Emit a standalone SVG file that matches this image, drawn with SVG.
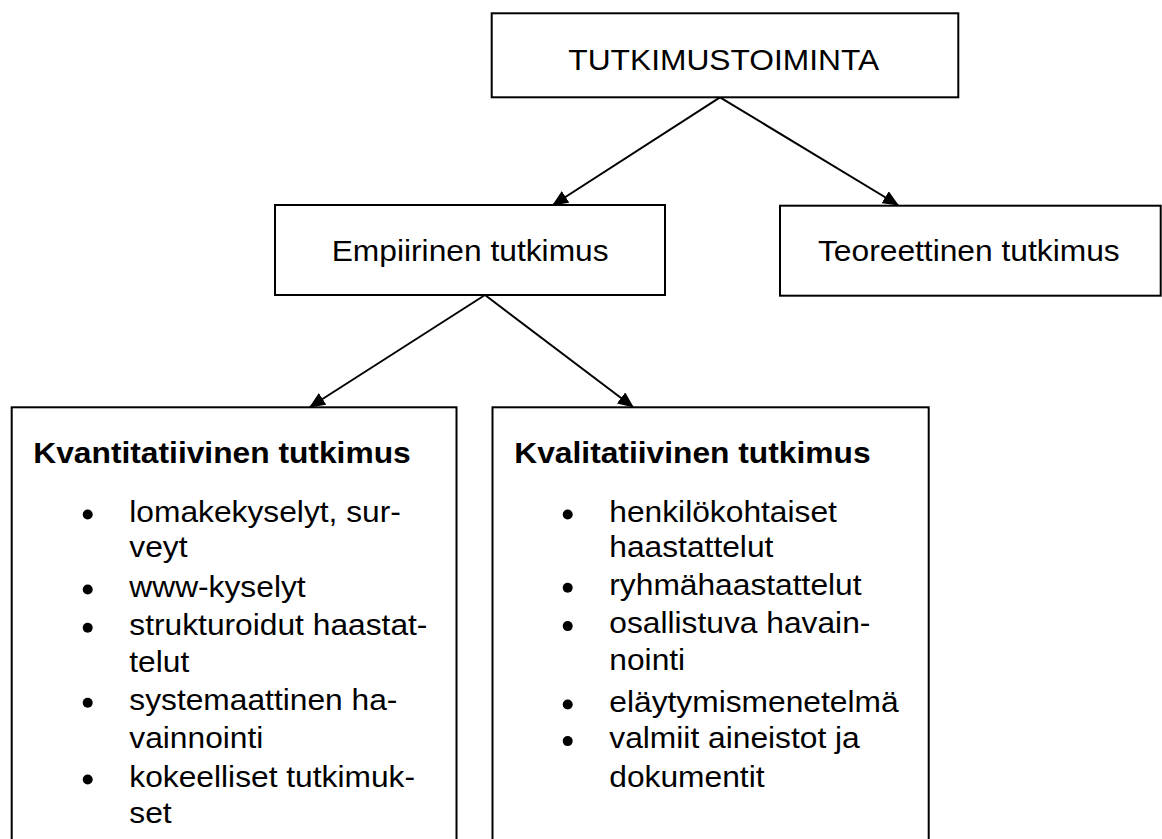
<svg xmlns="http://www.w3.org/2000/svg" width="1162" height="839" viewBox="0 0 1162 839">
<style>
.box{fill:#fff;stroke:#000;stroke-width:2}
.t{font-family:"Liberation Sans",Arial,sans-serif;font-size:29px;fill:#000}
.b{font-weight:bold}
.edge{stroke:#000;stroke-width:2;fill:none}
.dot{fill:#000}
</style>
<defs>
<marker id="ah" markerUnits="userSpaceOnUse" markerWidth="16" markerHeight="14" viewBox="0 0 16 14" refX="15" refY="7" orient="auto">
<path d="M0,0 L16,7 L0,14 Z" fill="#000"/>
</marker>
</defs>
<rect width="1162" height="839" fill="#fff"/>
<g id="connectors">
<line class="edge" x1="720" y1="97.3" x2="553" y2="205" marker-end="url(#ah)"/>
<line class="edge" x1="720" y1="97.3" x2="898" y2="205" marker-end="url(#ah)"/>
<line class="edge" x1="485" y1="295" x2="310" y2="407" marker-end="url(#ah)"/>
<line class="edge" x1="485" y1="295" x2="633" y2="407" marker-end="url(#ah)"/>
</g>
<g id="n-tutkimustoiminta">
<rect class="box" x="491.7" y="13.3" width="466.6" height="84"/>
<text class="t" transform="translate(568.3 70) scale(1.095 1)">TUTKIMUSTOIMINTA</text>
</g>
<g id="n-empiirinen">
<rect class="box" x="275" y="205" width="390" height="90"/>
<text class="t" transform="translate(331.7 261) scale(1.095 1)">Empiirinen tutkimus</text>
</g>
<g id="n-teoreettinen">
<rect class="box" x="780" y="205.7" width="380.7" height="90"/>
<text class="t" transform="translate(818 261) scale(1.095 1)">Teoreettinen tutkimus</text>
</g>
<g id="n-kvantitatiivinen">
<rect class="box" x="11.7" y="407.3" width="444.8" height="445"/>
<text class="t b" transform="translate(33.3 463.3) scale(1.095 1)">Kvantitatiivinen tutkimus</text>
<circle class="dot" cx="87.7" cy="514.5" r="5"/>
<text class="t" transform="translate(129.3 521.7) scale(1.095 1)">lomakekyselyt, sur-</text>
<text class="t" transform="translate(129.3 556.7) scale(1.095 1)">veyt</text>
<circle class="dot" cx="87.7" cy="589.5" r="5"/>
<text class="t" transform="translate(129.3 596.7) scale(1.095 1)">www-kyselyt</text>
<circle class="dot" cx="87.7" cy="627.8" r="5"/>
<text class="t" transform="translate(129.3 635) scale(1.095 1)">strukturoidut haastat-</text>
<text class="t" transform="translate(129.3 671.7) scale(1.095 1)">telut</text>
<circle class="dot" cx="87.7" cy="702.8" r="5"/>
<text class="t" transform="translate(129.3 710) scale(1.095 1)">systemaattinen ha-</text>
<text class="t" transform="translate(129.3 748.3) scale(1.095 1)">vainnointi</text>
<circle class="dot" cx="87.7" cy="779.5" r="5"/>
<text class="t" transform="translate(129.3 786.7) scale(1.095 1)">kokeelliset tutkimuk-</text>
<text class="t" transform="translate(129.3 823.3) scale(1.095 1)">set</text>
</g>
<g id="n-kvalitatiivinen">
<rect class="box" x="492.5" y="407.3" width="436.2" height="445"/>
<text class="t b" transform="translate(514.3 463.3) scale(1.095 1)">Kvalitatiivinen tutkimus</text>
<circle class="dot" cx="567.7" cy="514.5" r="5"/>
<text class="t" transform="translate(609.3 521.7) scale(1.095 1)">henkilökohtaiset</text>
<text class="t" transform="translate(609.3 556.7) scale(1.095 1)">haastattelut</text>
<circle class="dot" cx="567.7" cy="587.8" r="5"/>
<text class="t" transform="translate(609.3 595) scale(1.095 1)">ryhmähaastattelut</text>
<circle class="dot" cx="567.7" cy="626.1" r="5"/>
<text class="t" transform="translate(609.3 633.3) scale(1.095 1)">osallistuva havain-</text>
<text class="t" transform="translate(609.3 670) scale(1.095 1)">nointi</text>
<circle class="dot" cx="567.7" cy="704.5" r="5"/>
<text class="t" transform="translate(609.3 711.7) scale(1.095 1)">eläytymismenetelmä</text>
<circle class="dot" cx="567.7" cy="741.1" r="5"/>
<text class="t" transform="translate(609.3 748.3) scale(1.095 1)">valmiit aineistot ja</text>
<text class="t" transform="translate(609.3 786.7) scale(1.095 1)">dokumentit</text>
</g>
</svg>
